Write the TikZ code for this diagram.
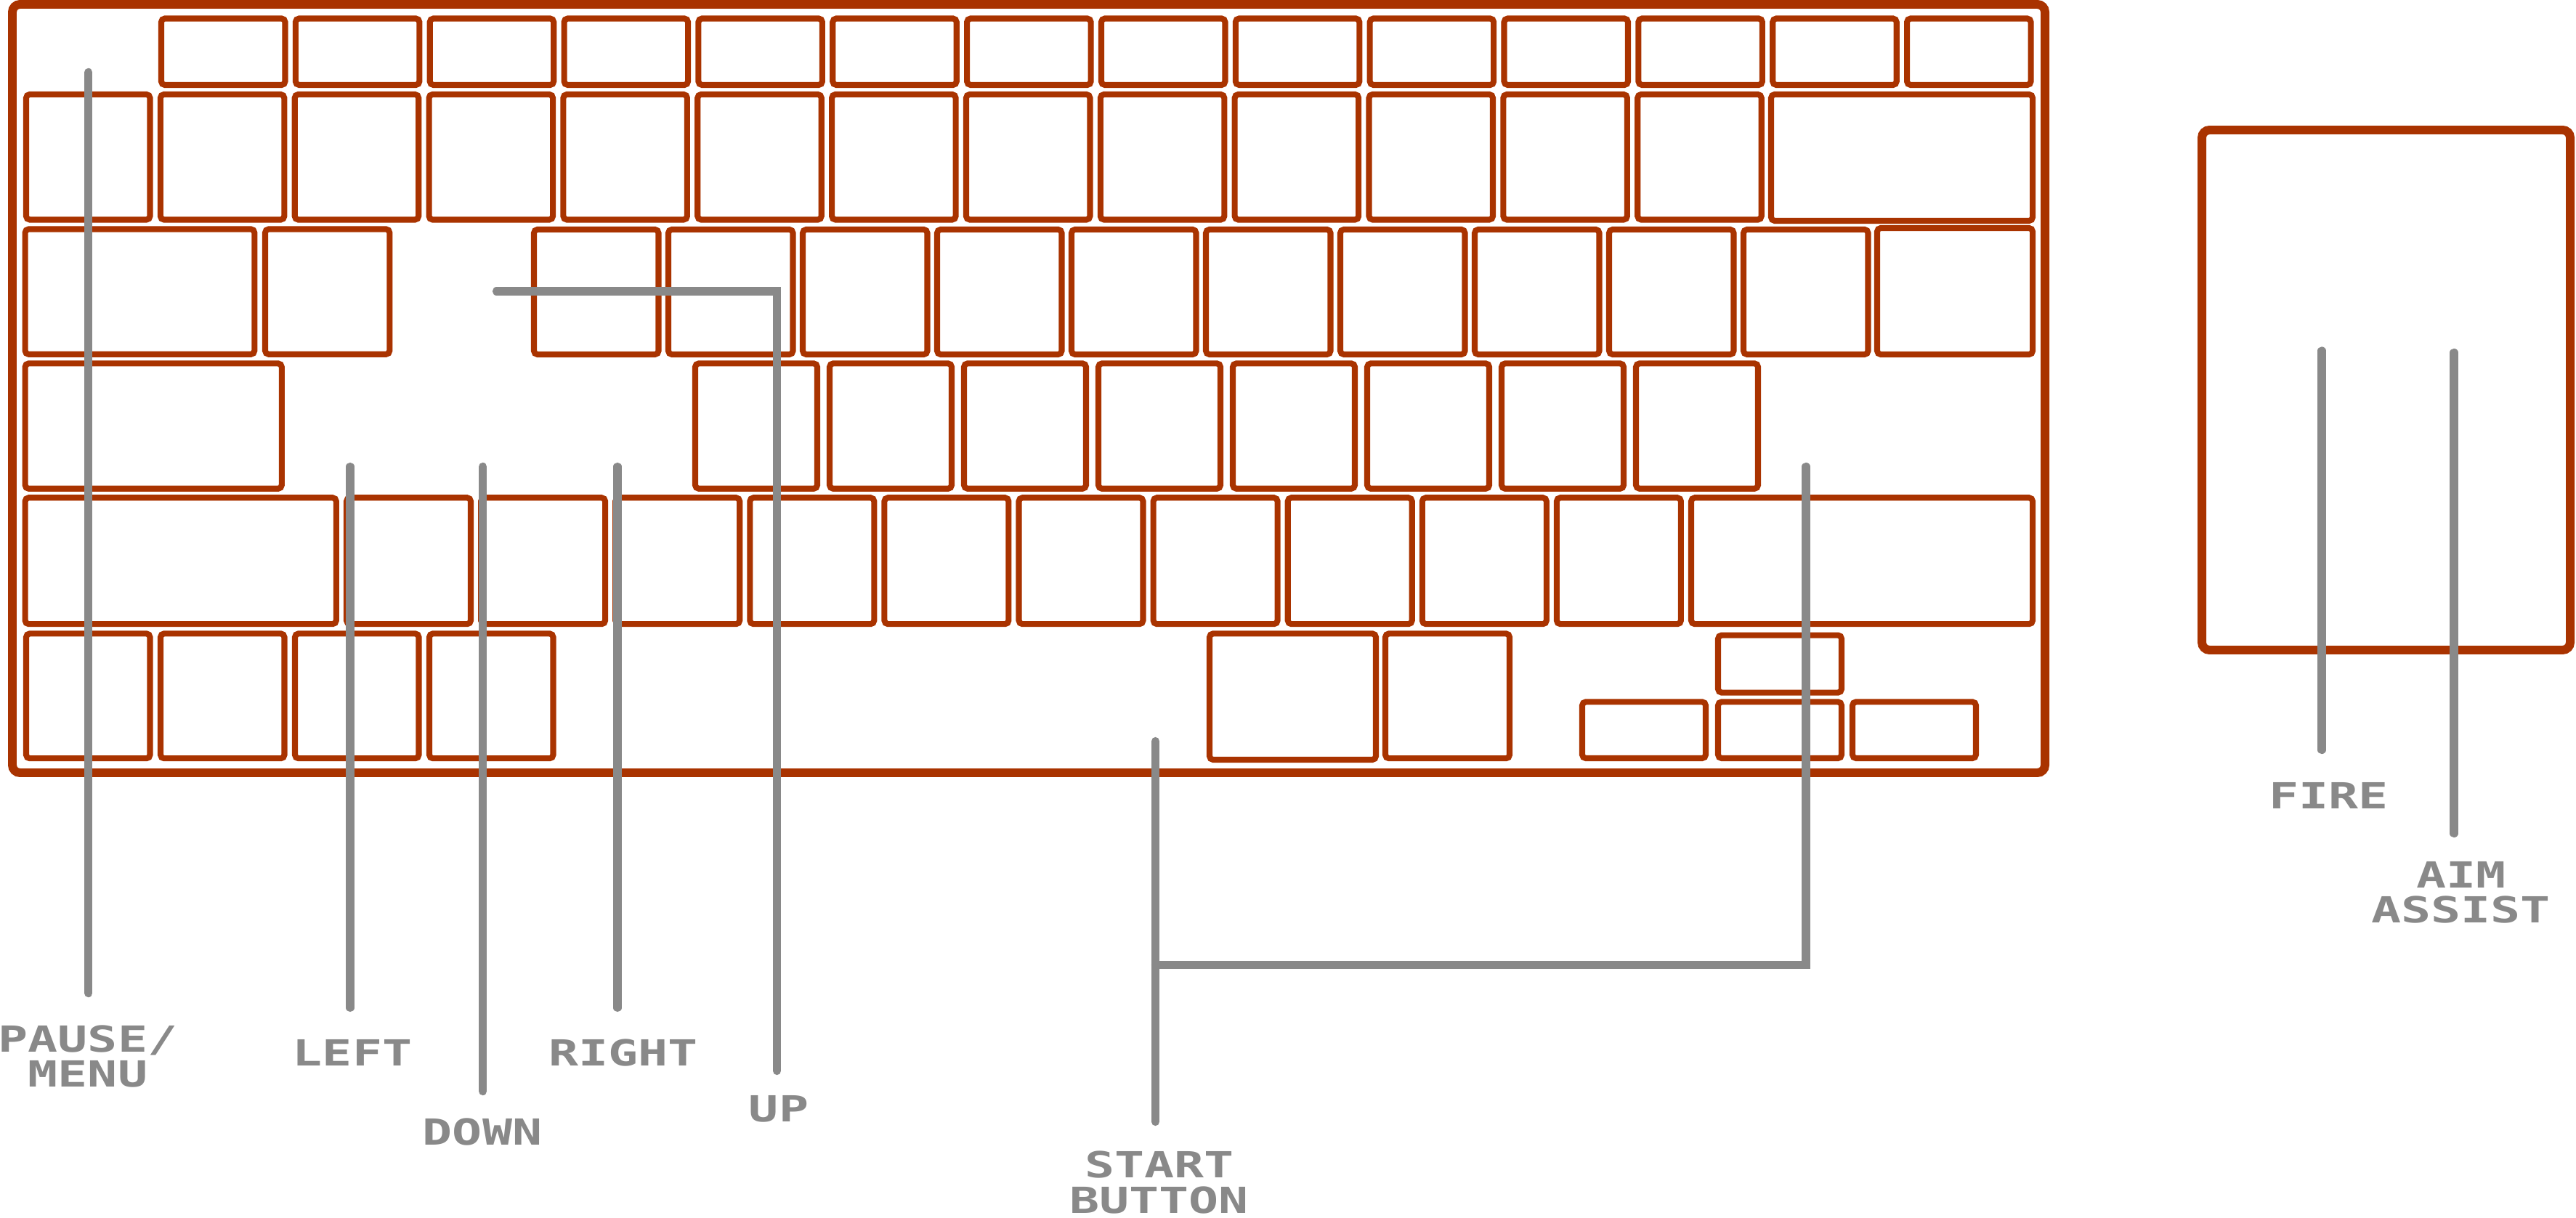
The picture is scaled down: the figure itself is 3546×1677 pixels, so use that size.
\documentclass[tikz,border=0pt]{standalone}
\usepackage{fontspec}
\newfontfamily\pxfont{DejaVu Sans Mono}[FakeStretch=1.38]
\definecolor{kred}{RGB}{169,51,0}
\definecolor{lgray}{RGB}{137,137,137}
\newcommand\kbkey[4]{\draw[keyst] ({#1+4},{#2+4}) rectangle ({#3-4},{#4-4});}
\begin{document}
\begin{tikzpicture}[x=0.01cm,y=-0.01cm,
  keyst/.style={draw=kred, line width=2.3pt, rounded corners=1.4pt},
  framest/.style={draw=kred, line width=3.4pt, rounded corners=3pt},
  lead/.style={draw=lgray, line width=3.2pt, line cap=round},
  lbl/.style={text=lgray, font=\pxfont\bfseries\fontsize{14.06}{13.77}\selectfont, inner sep=0pt, align=center, anchor=base}]
\useasboundingbox (0,0) rectangle (3546,1677);
% keyboard frame and pad
\draw[framest] (17,6) rectangle (2815,1064);
\draw[framest] (3031,179) rectangle (3538,895);
% row 1
\foreach \k in {0,...,13} {\kbkey{218+184.85*\k}{21.5}{218+184.85*\k+178.5}{121}}
% row 2
\foreach \k in {0,...,12} {\kbkey{32+184.85*\k}{126}{32+184.85*\k+178.5}{306.5}}
\kbkey{2434}{126}{2802}{308}
% row 3
\kbkey{30.6}{311.5}{354.3}{491.8}
\kbkey{361}{311.5}{540.3}{491.8}
\foreach \k in {0,...,9} {\kbkey{731+185*\k}{312}{731+185*\k+179.5}{492}}
\kbkey{2580}{310}{2802}{492}
% row 4
\kbkey{30.6}{496.4}{391.8}{676.8}
\foreach \k in {0,...,7} {\kbkey{953+185*\k}{496.4}{953+185*\k+176}{676.8}}
% row 5
\kbkey{30.6}{681.3}{466.8}{863.2}
\foreach \k in {0,...,9} {\kbkey{473+185.1*\k}{681.3}{652+185.1*\k}{863.2}}
\kbkey{2324}{681.3}{2802}{863.2}
% row 6
\foreach \k in {0,...,3} {\kbkey{32+185*\k}{868.4}{210.5+185*\k}{1048.2}}
\kbkey{1661}{868.4}{1898}{1050}
\kbkey{1903}{868.4}{2082}{1048.2}
\kbkey{2361}{870.6}{2539}{957.6}
\kbkey{2174}{962.4}{2352}{1048}
\kbkey{2361}{962.4}{2539}{1048}
\kbkey{2546}{962.4}{2724}{1048}
% labels (base anchor = baseline of the last line)
\node[lbl] (pause) at (121,1496.7) {PAUSE/\\MENU};
\node[lbl] (left) at (485,1467.7) {LEFT};
\node[lbl] (down) at (664,1576.7) {DOWN};
\node[lbl] (right) at (858,1467.7) {RIGHT};
\node[lbl] (up) at (1072,1544) {UP};
\node[lbl] (start) at (1595.7,1670) {START\\BUTTON};
\node[lbl] (fire) at (3205.5,1113.3) {FIRE};
\node[lbl] (aim) at (3387.6,1270.7) {AIM\\ASSIST};
% leader end points
\coordinate (pT) at (121.7,99.5);  \coordinate (pB) at (121.7,1367.5);
\coordinate (lT) at (482,642.5);   \coordinate (lB) at (482,1387.5);
\coordinate (dT) at (664.6,642.5); \coordinate (dB) at (664.6,1502.5);
\coordinate (rT) at (850,642.5);   \coordinate (rB) at (850,1387.5);
\coordinate (uT) at (683.5,401);   \coordinate (uC) at (1069.5,401); \coordinate (uB) at (1069.5,1474.5);
\coordinate (sT) at (1590.5,1020.5); \coordinate (sB) at (1590.5,1544.5);
\coordinate (sJ) at (1590.5,1328.7); \coordinate (sC) at (2486,1328.7); \coordinate (sR) at (2486,642.5);
\coordinate (fT) at (3196,483);    \coordinate (fB) at (3196,1032.5);
\coordinate (aT) at (3378,485.5);  \coordinate (aB) at (3378,1147.5);
% leaders
\draw[lead] (pT) -- (pB);
\draw[lead] (lT) -- (lB);
\draw[lead] (dT) -- (dB);
\draw[lead] (rT) -- (rB);
\draw[lead] (uT) -- (uC) -- (uB);
\draw[lead] (sT) -- (sB);
\draw[lead] (sJ) -- (sC) -- (sR);
\draw[lead] (fT) -- (fB);
\draw[lead] (aT) -- (aB);
\end{tikzpicture}
\end{document}
